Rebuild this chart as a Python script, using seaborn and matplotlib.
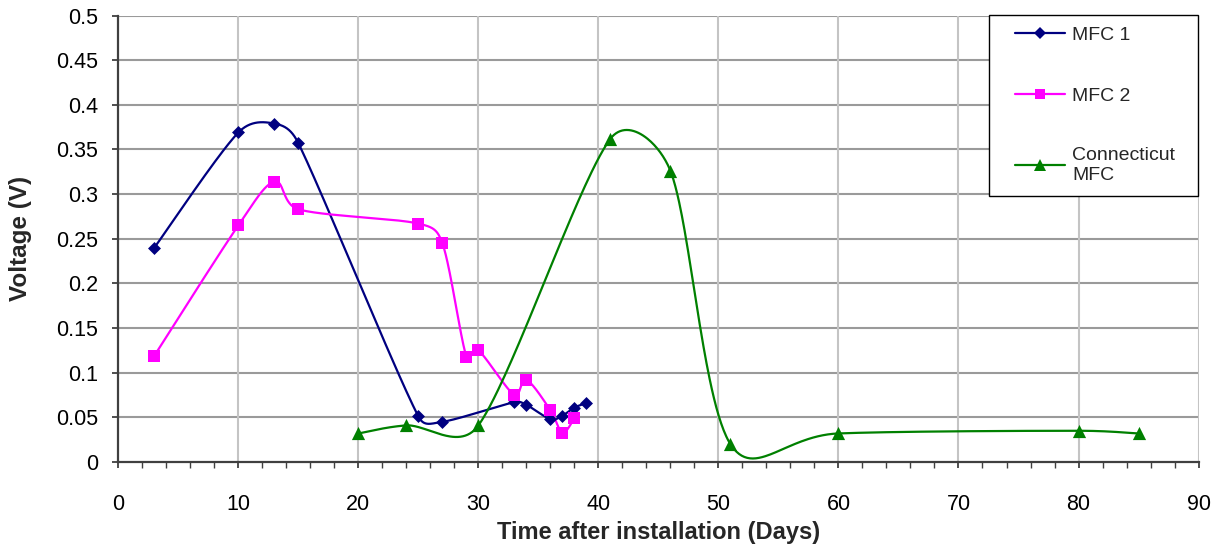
import numpy as np
import pandas as pd
import matplotlib
matplotlib.use("Agg")
import matplotlib.pyplot as plt
from matplotlib.lines import Line2D
from matplotlib.legend_handler import HandlerLine2D
import seaborn as sns

# Voltage readings per unit (days after installation, volts)
mfc1_days = [3, 10, 13, 15, 25, 27, 33, 34, 36, 37, 38, 39]
mfc1_volts = [0.240, 0.369, 0.379, 0.357, 0.051, 0.045, 0.067, 0.064, 0.048, 0.052, 0.061, 0.066]

mfc2_days = [3, 10, 13, 15, 25, 27, 29, 30, 33, 34, 36, 37, 38]
mfc2_volts = [0.119, 0.265, 0.314, 0.283, 0.267, 0.245, 0.118, 0.125, 0.075, 0.092, 0.058, 0.033, 0.049]

ct_days = [20, 24, 30, 41, 46, 51, 60, 80, 85]
ct_volts = [0.032, 0.041, 0.041, 0.362, 0.326, 0.020, 0.032, 0.035, 0.032]

series_names = ["MFC 1", "MFC 2", "Connecticut\nMFC"]
x_ticks = list(range(0, 91, 10))
y_ticks = [round(v * 0.05, 2) for v in range(11)]


def smooth(xs, ys, sx=12.0, sy=890.0, n=60):
    """Cardinal Bezier smoothing through every point.  Control arms are the
    usual (next - prev) / 6, shortened next to short segments so the curve
    never loops back on itself.  Distances are measured in display-like units."""
    p = np.column_stack([np.asarray(xs, float) * sx, np.asarray(ys, float) * sy])
    m = len(p)
    ext = np.vstack([p[0], p, p[-1]])
    seglen = np.hypot(*(np.diff(ext, axis=0).T))  # length of segment j -> j+1 in ext
    t = np.linspace(0, 1, n)[:, None]
    out = []
    for i in range(m - 1):
        j = i + 1  # index of p[i] in ext
        p0, p1, p2, p3 = ext[j - 1], ext[j], ext[j + 1], ext[j + 2]
        d01, d12, d23 = seglen[j - 1], seglen[j], seglen[j + 1]
        s1 = min(1.0, 3 * d12 / (d01 + d12)) if d01 + d12 > 0 else 1.0
        s2 = min(1.0, 3 * d12 / (d12 + d23)) if d12 + d23 > 0 else 1.0
        b1 = p1 + (p2 - p0) * s1 / 6.0
        b2 = p2 - (p3 - p1) * s2 / 6.0
        seg = ((1 - t) ** 3) * p1 + 3 * ((1 - t) ** 2) * t * b1 + 3 * (1 - t) * t ** 2 * b2 + t ** 3 * p2
        out.append(seg if i == 0 else seg[1:])
    c = np.vstack(out)
    return c[:, 0] / sx, c[:, 1] / sy


sns.set_theme(style="white")
plt.rcParams["font.family"] = ["Liberation Sans", "DejaVu Sans"]

fig = plt.figure(figsize=(12.25, 5.46), dpi=100)
ax = fig.add_axes([0.0966, 0.1538, 0.8818, 0.8178])

series = [
    (mfc1_days, mfc1_volts, "#000080", "D", 6.6),
    (mfc2_days, mfc2_volts, "#FF00FF", "s", 8.6),
    (ct_days, ct_volts, "#008000", "^", 9.5),
]

handles = []
for (xs, ys, color, mk, ms), name in zip(series, series_names):
    sx, sy = smooth(xs, ys)
    curve = pd.DataFrame({"x": sx, "y": sy})
    sns.lineplot(data=curve, x="x", y="y", sort=False, estimator=None,
                 color=color, linewidth=1.6, ax=ax, zorder=3)
    pts = pd.DataFrame({"x": xs, "y": ys})
    sns.scatterplot(data=pts, x="x", y="y", marker=mk, s=ms ** 2, color=color,
                    edgecolor=color, linewidth=0, ax=ax, zorder=4)
    handles.append(Line2D([0], [0], color=color, marker=mk, markersize=ms * 0.85,
                          markeredgewidth=0, linewidth=1.6))

ax.set_xlim(0, 90)
ax.set_ylim(0, 0.5)
ax.set_xticks(x_ticks)
ax.set_xticks(np.arange(0, 91, 2), minor=True)
ax.set_yticks(y_ticks)
ax.set_xticklabels([str(v) for v in x_ticks])
ax.set_yticklabels([f"{v:g}" for v in y_ticks])

# gridlines: darker horizontals, lighter verticals
for v in y_ticks[1:]:
    ax.axhline(v, color="#9a9a9a", linewidth=1.5, zorder=1)
for v in x_ticks[1:]:
    ax.axvline(v, color="#c4c4c4", linewidth=1.5, zorder=1)

for side in ["top", "right"]:
    ax.spines[side].set_visible(False)
for side in ["left", "bottom"]:
    ax.spines[side].set_color("#404040")
    ax.spines[side].set_linewidth(1.6)
    ax.spines[side].set_zorder(2)

ax.tick_params(axis="both", which="major", direction="out", length=4.5, width=1.3,
               color="#404040", labelsize=15.5, labelcolor="black")
ax.tick_params(axis="x", which="minor", direction="out", length=4.5, width=1.0,
               color="#404040", bottom=True)
ax.tick_params(axis="x", which="major", pad=18.5, bottom=True)
ax.tick_params(axis="y", which="major", pad=10, left=True)

ax.set_xlabel("Time after installation (Days)", fontsize=17, fontweight="bold", labelpad=4)
ax.set_ylabel("Voltage (V)", fontsize=17.5, fontweight="bold", labelpad=17)

fs = 14
leg = ax.legend(handles, series_names, loc="upper left",
                bbox_to_anchor=(0.806, 0.602, 0.1935, 0.4), mode="expand",
                borderaxespad=0, frameon=True, fancybox=False, fontsize=fs,
                labelspacing=2.2, handlelength=3.3, handletextpad=0.36,
                borderpad=0.62, alignment="left",
                handler_map={Line2D: HandlerLine2D(numpoints=1, xpad=0.7)})
frame = leg.get_frame()
frame.set_edgecolor("black")
frame.set_linewidth(1.0)
frame.set_facecolor("white")
frame.set_alpha(1.0)

fig.savefig("out.png", dpi=100, facecolor="white")
